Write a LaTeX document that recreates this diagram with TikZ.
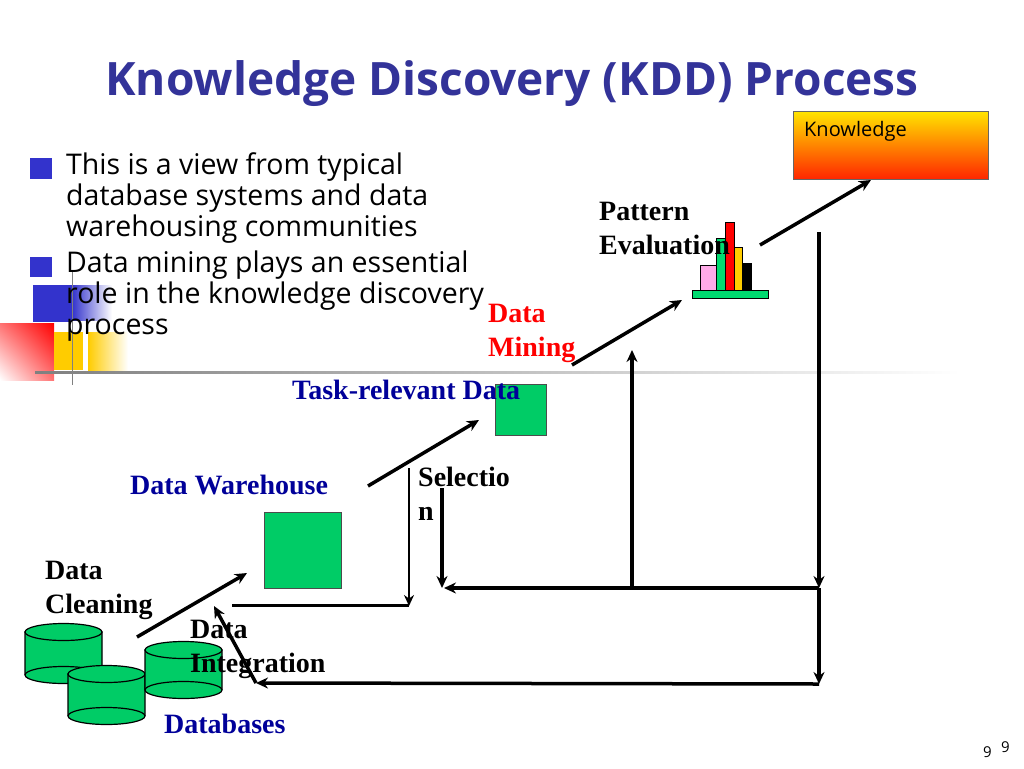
\documentclass[tikz,border=0pt]{standalone}
\usepackage{fontspec}
\setmainfont{Liberation Serif}
\setsansfont{Open Sans}
\usetikzlibrary{arrows.meta,shadings}
\definecolor{ttl}{RGB}{51,51,153}
\definecolor{navy}{RGB}{0,0,153}
\definecolor{grn}{RGB}{0,204,102}
\definecolor{bul}{RGB}{51,51,204}
\definecolor{yel}{RGB}{255,204,0}
\begin{document}
\begin{tikzpicture}[x=1pt,y=-1pt,
  arr/.style={line width=3.5pt,-{Stealth[length=12pt,width=11pt]}},
  ln/.style={line width=3.5pt},
  lbl/.style={font=\fontsize{28}{34}\selectfont\bfseries,anchor=base west,inner sep=0pt,align=left},
  body/.style={font=\sffamily\fontsize{28.5}{31}\selectfont,anchor=base west,inner sep=0pt,align=left},
  box/.style={fill=grn,draw=black!70,line width=0.8pt},
  cylf/.style={fill=grn,draw=black,line width=1.2pt}]
\useasboundingbox (0,0) rectangle (1024,768);
% decor
\fill[bul] (33,285) rectangle (72,322);
\shade[left color=bul, right color=white] (72,285) rectangle (112,320);
\shade[upper right=red, lower left=white, upper left=red!55, lower right=red!55] (0,323) rectangle (54,380);
\fill[yel] (54,332) rectangle (83,370);
\shade[left color=yel, right color=white] (88,332) rectangle (128,370);
\draw[gray,line width=0.8pt] (72,270) -- (72,385);
\shade[left color=gray, right color=white] (35,371.5) rectangle (960,373);
% title
\node[font=\sffamily\bfseries\fontsize{46}{52}\selectfont,text=ttl,anchor=base] (title) at (512,95) {Knowledge Discovery (KDD) Process};
% bullets
\fill[bul] (30,158) rectangle (52,179);
\fill[bul] (30,257) rectangle (52,277);
\node[body] (b1) at (66,236) {This is a view from typical\\database systems and data\\warehousing communities};
\node[body] (b2) at (66,334) {Data mining plays an essential\\role in the knowledge discovery\\process};
% knowledge box
\shade[top color=yellow!80!orange, bottom color=orange!30!red, draw=black!60, line width=0.8pt] (793,111) rectangle (988,179);
\node[font=\sffamily\fontsize{20}{24}\selectfont,anchor=base west,inner sep=0pt] (kn) at (804,136) {Knowledge};
% bars
\begin{scope}[draw=black,line width=1pt]
\filldraw[fill=pink!60!magenta!60] (700,265) rectangle (716,290);
\filldraw[fill=teal!40!green!70!cyan] (716,238) rectangle (727,290);
\filldraw[fill=red] (725,222) rectangle (734,290);
\filldraw[fill=yel] (734,247) rectangle (742,290);
\filldraw[fill=black] (742,263) rectangle (751,290);
\filldraw[fill=teal!40!green!70!cyan] (692,290) rectangle (768,298);
\end{scope}
% squares
\node[box,minimum width=77pt,minimum height=76pt,inner sep=0pt] (dw) at (302.5,550) {};
\node[box,minimum width=51pt,minimum height=51pt,inner sep=0pt] (tr) at (520.5,409.5) {};
% cylinders
\foreach \n/\x/\t/\b in {c1/25/632/675, c2/68/674/716, c3/145/650/690}{
  \filldraw[cylf] (\x,\t) -- (\x,\b) arc[start angle=180,end angle=360,x radius=38.5pt,y radius=8.5pt] -- (\x+77,\t) -- cycle;
  \draw[black,line width=1.2pt] (\x,\b) arc[start angle=180,end angle=0,x radius=38.5pt,y radius=8.5pt];
  \filldraw[cylf] (\x+38.5,\t) ellipse[x radius=38.5pt,y radius=8.5pt];
  \coordinate (\n) at (\x+38.5,\t);
}
% labels
\node[lbl] (pe) at (599,254) {Pattern\\Evaluation};
\node[lbl,text=red] (dm) at (488,356) {Data\\Mining};
\node[lbl,text=navy] (trl) at (292,399) {Task-relevant Data};
\node[lbl,text=navy] (dwl) at (130,494) {Data Warehouse};
\node[lbl] (sel) at (418,520) {Selectio\\n};
\node[lbl] (dc) at (45,613) {Data\\Cleaning};
\node[lbl] (di) at (190,672) {Data\\Integration};
\node[lbl,text=navy] (dbl) at (164,733) {Databases};
\node[font=\sffamily\fontsize{15}{18}\selectfont,anchor=base west,inner sep=0pt] (pg1) at (983,757) {9};
\node[font=\sffamily\fontsize{15}{18}\selectfont,anchor=base west,inner sep=0pt] (pg2) at (1001,752) {9};
% coordinates
\coordinate (a1s) at (137,637); \coordinate (a1e) at (247,573);
\coordinate (a2s) at (368,486); \coordinate (a2e) at (479,420);
\coordinate (a3s) at (572,365); \coordinate (a3e) at (682,300);
\coordinate (a4s) at (760,245); \coordinate (a4e) at (871,180);
\coordinate (h1l) at (232,605); \coordinate (v1t) at (409,468); \coordinate (v1b) at (409,606);
\coordinate (v2t) at (442,488); \coordinate (v2b) at (442,588);
\coordinate (jn) at (819,588); \coordinate (hl) at (444,588);
\coordinate (m) at (632,588); \coordinate (mt) at (632,350);
\coordinate (rt) at (819,232); \coordinate (rb) at (819,684);
\coordinate (bl) at (256,683); \coordinate (it) at (214,606);
% arrows
\draw[arr] (a1s) -- (a1e);
\draw[arr] (a2s) -- (a2e);
\draw[arr] (a3s) -- (a3e);
\draw[arr] (a4s) -- (a4e);
\draw[ln,line width=3pt] (h1l) -- (409,605);
\draw[line width=2.5pt,-{Stealth[length=11pt,width=10pt]}] (v1t) -- (v1b);
\draw[arr] (v2t) -- (v2b);
\draw[arr] (jn) -- (hl);
\draw[arr] (m) -- (mt);
\draw[arr] (rt) -- (jn);
\draw[arr] (jn) -- (rb);
\draw[arr] (rb) -- (bl);
\draw[arr] (bl) -- (it);
\end{tikzpicture}
\end{document}
